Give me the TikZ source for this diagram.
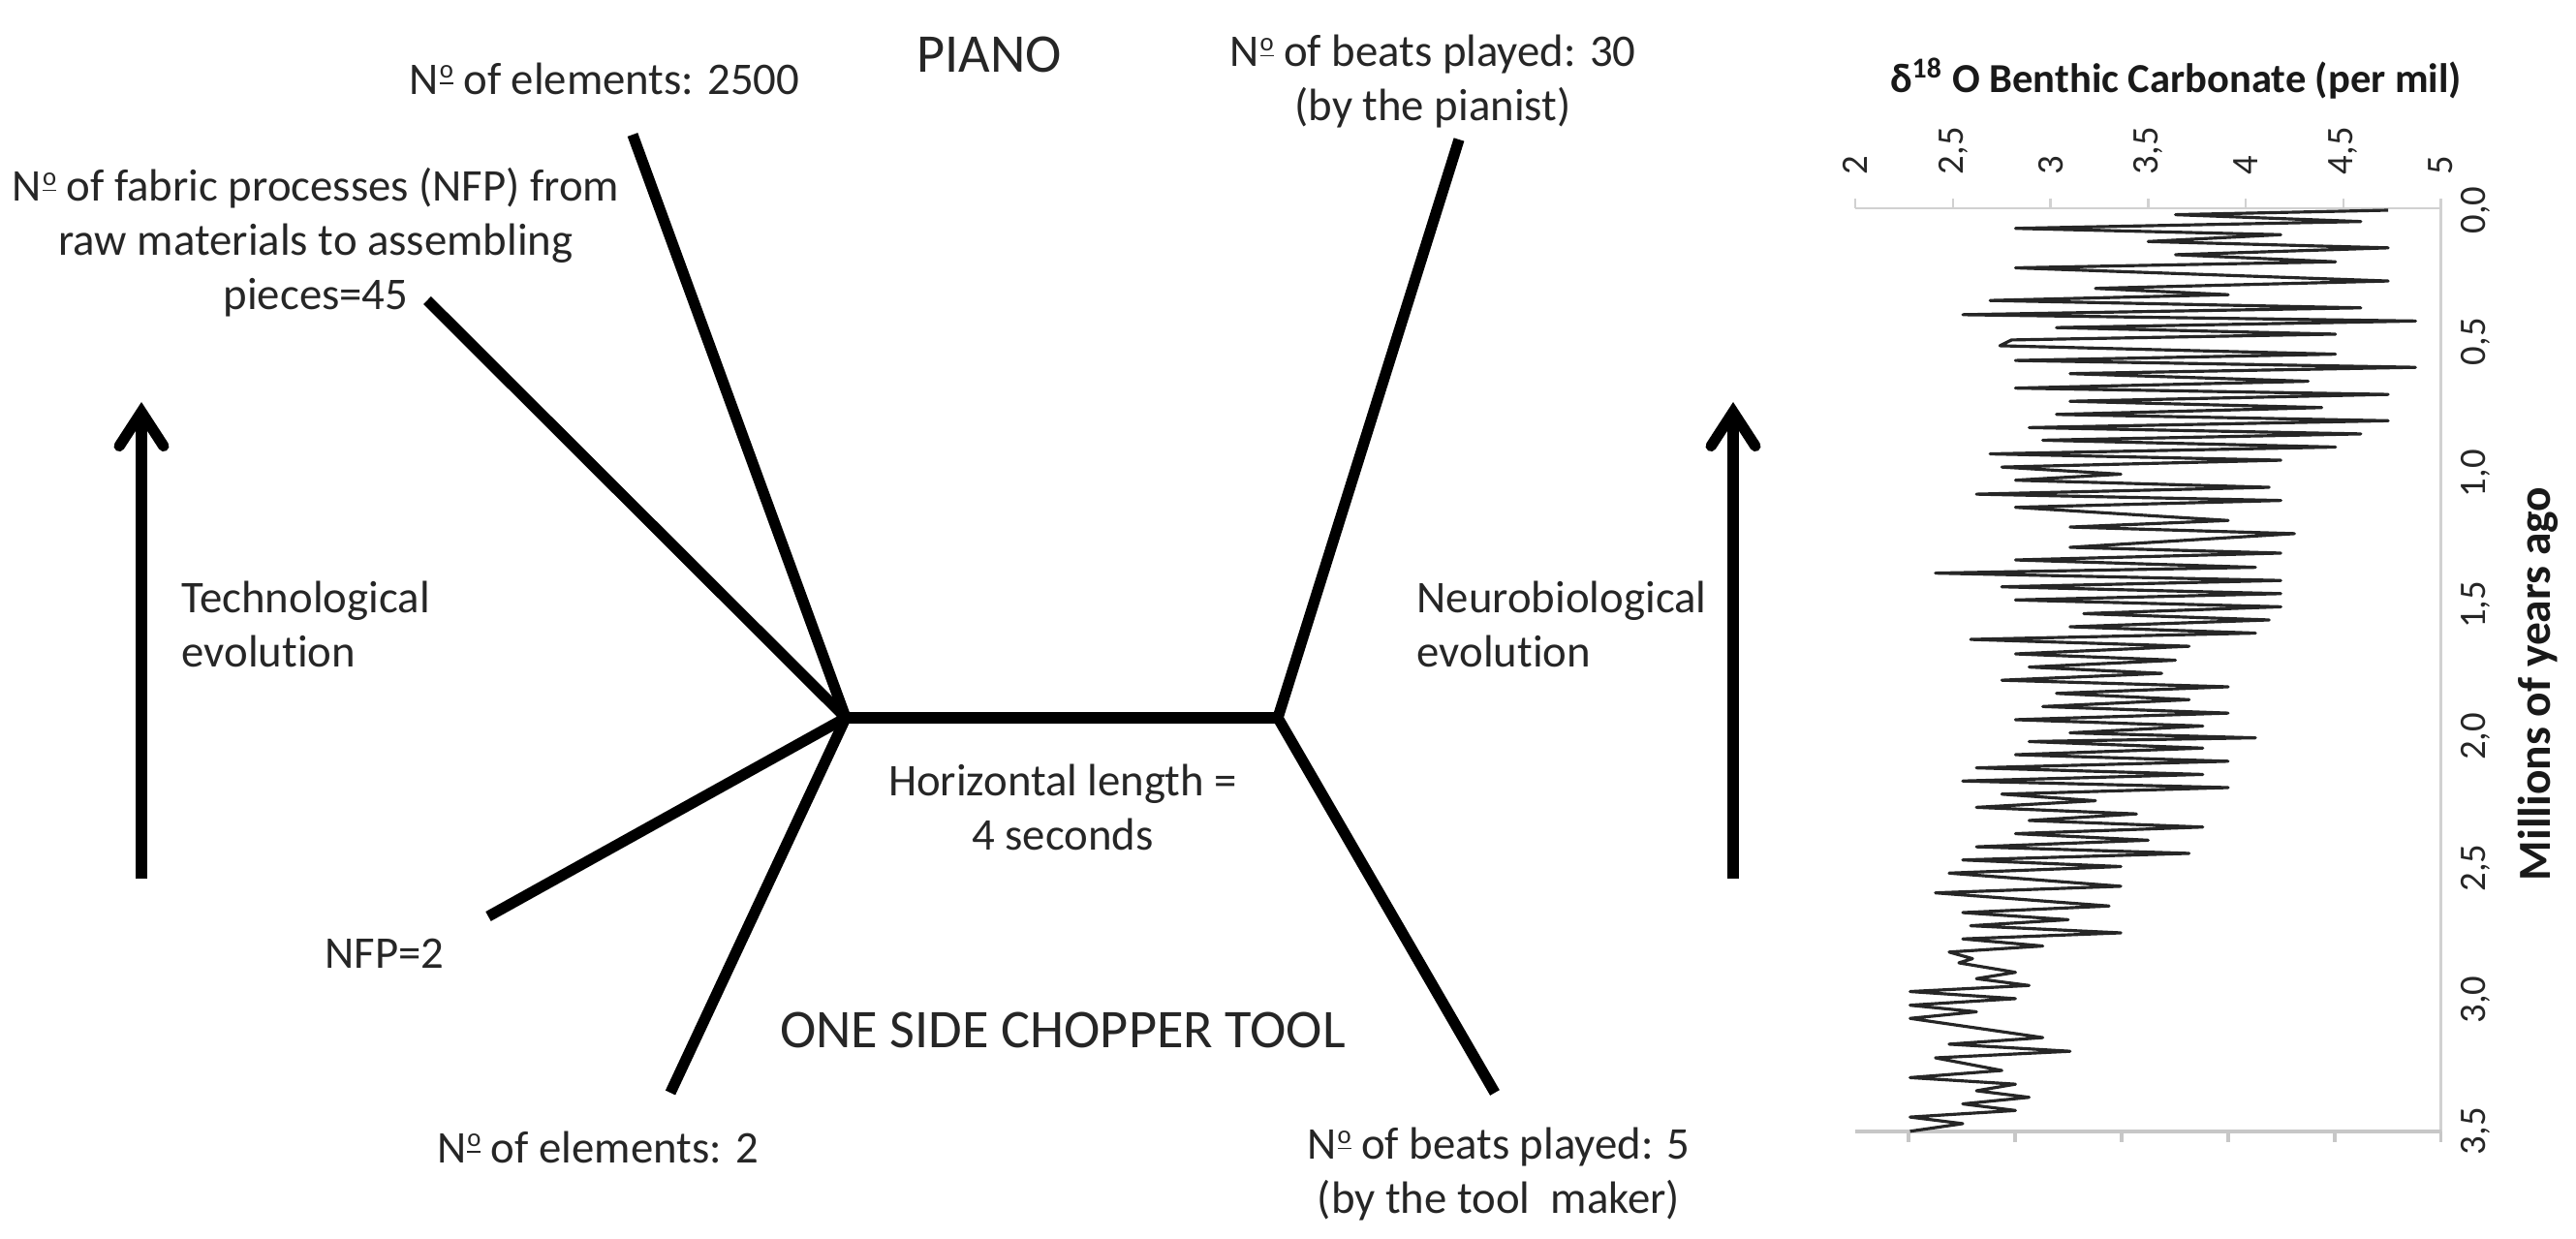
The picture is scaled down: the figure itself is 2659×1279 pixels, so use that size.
\documentclass[tikz,border=0pt]{standalone}
\usepackage{fontspec}
\setmainfont{Carlito}[Ligatures=NoCommon]
\usetikzlibrary{arrows.meta}
\newcommand{\Nro}{N\kern0.02em\raisebox{4.6pt}{\fontsize{7.6}{8}\selectfont\underline{o}}}
\begin{document}
\begin{tikzpicture}[x=0.01cm,y=-0.01cm,
  lbl/.style={font={\fontsize{13.3}{15.9}\selectfont},inner sep=0pt,align=center,text=black!85},
  lbll/.style={font={\fontsize{13.3}{15.9}\selectfont},inner sep=0pt,align=left,text=black!85},
  big/.style={font={\fontsize{16}{19}\selectfont},inner sep=0pt,text=black!85},
  branch/.style={line width=3.2pt,black},
  evo/.style={line width=3.2pt,black,-{Straight Barb[length=10pt,width=13pt,line cap=round]}},
  axisln/.style={line width=0.7pt,black!18},
  axisbot/.style={line width=1.1pt,black!22},
  ticklbl/.style={font={\fontsize{11}{13}\selectfont},inner sep=0pt,text=black!85},
  plotline/.style={line width=0.9pt,black!85,line join=round}]
\path[use as bounding box,fill=white] (0,0) rectangle (2659,1279);

% ---- tree ----
\coordinate (J1) at (873,741);
\coordinate (J2) at (1319,741);
\coordinate (eA) at (653,139);
\coordinate (eB) at (441,310);
\coordinate (eC) at (1506,144);
\coordinate (eD) at (504,946);
\coordinate (eE) at (692,1128);
\coordinate (eF) at (1543,1128);
\draw[branch] (eB) -- (J1) -- (eD);
\draw[branch] (eA) -- (J1) -- (eE);
\draw[branch] (J1) -- (J2);
\draw[branch] (eC) -- (J2) -- (eF);

\node[big] (piano) at (1021,56) {PIANO};
\node[big] (chopper) at (1097,1063) {ONE SIDE CHOPPER TOOL};
\node[lbl] (el2500) at (624,81) {\Nro{} of elements: 2500};
\node[lbl] (nfp45) at (326,250) {\Nro{} of fabric processes (NFP) from\\raw materials to assembling\\pieces=45};
\node[lbl] (beats30) at (1479,84) {\Nro{} of beats played: 30\\(by the pianist)};
\node[lbl] (hlen) at (1097,833) {Horizontal length =\\4 seconds};
\node[lbl] (nfp2) at (397,984) {NFP=2};
\node[lbl] (el2) at (617,1184) {\Nro{} of elements: 2};
\node[lbl] (beats5) at (1547,1212) {\Nro{} of beats played: 5\\(by the tool\ \ maker)};
\node[lbll,anchor=west] (techevo) at (187,644) {Technological\\evolution};
\node[lbll,anchor=west] (neuroevo) at (1462,644) {Neurobiological\\evolution};

% ---- evolution arrows ----
\coordinate (tl0) at (146,907);
\coordinate (tl1) at (146,415);
\coordinate (tr0) at (1789,907);
\coordinate (tr1) at (1789,415);
\draw[evo] (tl0) -- (tl1);
\draw[evo] (tr0) -- (tr1);

% ---- chart ----
\node[font={\fontsize{12.1}{14}\selectfont\bfseries},inner sep=0pt,text=black!90] (title) at (2246,81) {δ\textsuperscript{18} O Benthic Carbonate (per mil)};
\begin{scope}[shift={(1512.4,217)},x=2.013cm,y=-2.715cm]
  \draw[axisln] (2,-0.008) -- (5,-0.008);
  \foreach \v in {2,2.5,...,5} \draw[axisln] (\v,-0.008) -- (\v,-0.045);
  \draw[axisln] (5,-0.008) -- (5,3.5);
  \draw[axisbot] (2,3.5) -- (5,3.5);
  \foreach \k in {0,...,5} \draw[axisbot] ({2+0.272727*(2*\k+1)},3.5) -- ({2+0.272727*(2*\k+1)},3.54);
  \foreach \v/\t in {2/2,2.5/{2,5},3/3,3.5/{3,5},4/4,4.5/{4,5},5/5}
    \node[ticklbl,rotate=90,anchor=west] at (\v,-0.133) {\t};
  \foreach \y/\t in {0/{0,0},0.5/{0,5},1/{1,0},1.5/{1,5},2/{2,0},2.5/{2,5},3/{3,0},3.5/{3,5}}
    \node[ticklbl,rotate=90] at (5.18,\y) {\t};
  \node[font={\fontsize{13.5}{15}\selectfont\bfseries},inner sep=0pt,rotate=90,text=black!90] (ytitle) at (5.50,1.8) {Millions of years ago};
  \draw[plotline] plot coordinates {
(4.73,0.000) (3.64,0.017) (4.59,0.043) (2.82,0.069) (4.18,0.093) (3.50,0.119)
(4.73,0.143) (3.64,0.169) (4.46,0.196) (2.82,0.219) (4.73,0.269) (3.23,0.297)
(3.91,0.321) (2.69,0.343) (4.59,0.371) (2.55,0.397) (4.87,0.421) (3.03,0.446)
(4.46,0.471) (2.80,0.493) (2.74,0.515) (4.46,0.547) (2.82,0.571) (4.87,0.597)
(3.10,0.621) (4.32,0.650) (2.82,0.676) (4.73,0.700) (3.10,0.726) (4.39,0.750)
(3.03,0.776) (4.73,0.800) (2.89,0.826) (4.59,0.850) (2.96,0.874) (4.46,0.900)
(2.69,0.926) (4.18,0.950) (2.75,0.976) (3.36,1.003) (2.82,1.026) (4.12,1.053)
(2.62,1.079) (4.18,1.103) (2.82,1.129) (3.91,1.179) (3.10,1.204) (4.25,1.229)
(3.10,1.281) (4.18,1.303) (2.82,1.329) (4.05,1.357) (2.41,1.379) (4.18,1.407)
(2.75,1.431) (4.18,1.457) (2.82,1.481) (4.18,1.507) (3.17,1.533) (4.12,1.557)
(3.10,1.583) (4.05,1.607) (2.59,1.631) (3.71,1.657) (2.82,1.686) (3.64,1.710)
(2.89,1.736) (3.57,1.760) (2.75,1.786) (3.91,1.811) (3.03,1.836) (3.71,1.860)
(2.96,1.886) (3.91,1.911) (2.82,1.936) (3.78,1.960) (3.10,1.986) (4.05,2.005)
(2.89,2.019) (3.78,2.044) (2.82,2.069) (3.91,2.094) (2.62,2.119) (3.78,2.144)
(2.55,2.169) (3.91,2.194) (2.75,2.219) (3.23,2.244) (2.62,2.269) (3.44,2.294)
(2.89,2.319) (3.78,2.344) (2.82,2.369) (3.50,2.394) (2.62,2.419) (3.71,2.444)
(2.55,2.469) (3.36,2.494) (2.48,2.519) (3.36,2.569) (2.41,2.594) (3.30,2.644)
(2.55,2.669) (3.09,2.696) (2.59,2.719) (3.36,2.746) (2.55,2.769) (2.96,2.796)
(2.48,2.819) (2.60,2.844) (2.53,2.860) (2.82,2.896) (2.62,2.920) (2.89,2.946)
(2.28,2.969) (2.82,2.996) (2.28,3.021) (2.62,3.046) (2.28,3.071) (2.96,3.144)
(2.48,3.169) (3.10,3.196) (2.41,3.221) (2.75,3.269) (2.28,3.296) (2.82,3.321)
(2.62,3.346) (2.89,3.371) (2.55,3.396) (2.82,3.421) (2.28,3.446) (2.55,3.471)
(2.28,3.500)};
\end{scope}
\end{tikzpicture}
\end{document}
